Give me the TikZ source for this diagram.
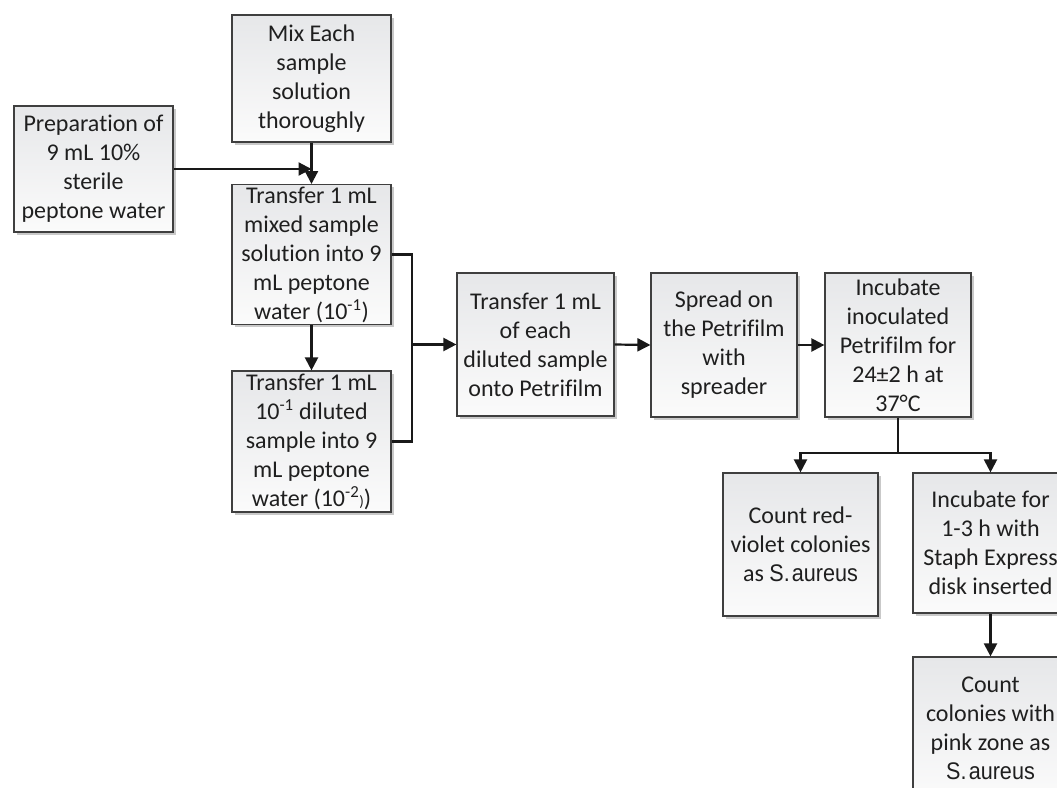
\documentclass[tikz,border=0pt]{standalone}
\usepackage{graphicx}
\usepackage{fontspec}
\setmainfont{Carlito}[Ligatures={NoCommon}]
\newfontfamily\arialfont{Liberation Sans}
\usetikzlibrary{arrows.meta,shadows}

\definecolor{boxedge}{HTML}{3F3F3F}
\definecolor{boxtop}{HTML}{E6E7E9}
\definecolor{boxbot}{HTML}{FBFBFB}
\definecolor{shadowgray}{HTML}{C9C9C9}

\newcommand{\saur}{\scalebox{0.9}[1]{\arialfont S.\hspace{0.1em}aureus}}

\tikzset{
  stepbox/.style={draw=boxedge, line width=1.2pt, rectangle,
    top color=boxtop, bottom color=boxbot, align=center, inner sep=2pt,
    font=\fontsize{24pt}{29pt}\selectfont, text=black!88,
    drop shadow={shadow xshift=2.5pt, shadow yshift=-2.5pt, fill=shadowgray, opacity=1}},
  link/.style={line width=2.2pt, draw=black!90},
  arr/.style={link, -{Triangle[length=13pt,width=13pt]}},
}

\begin{document}
\begin{tikzpicture}[x=1pt,y=-1pt]
\useasboundingbox (0,0) rectangle (1057,787);
\clip (0,0) rectangle (1057,787);

% preparation column
\node[stepbox, minimum width=159pt, minimum height=126pt] (prep) at (93.5,169)
  {Preparation of\\9 mL 10\%\\sterile\\peptone water};
\node[stepbox, minimum width=159pt, minimum height=127pt] (mix) at (311.5,78.5)
  {Mix Each\\sample\\solution\\thoroughly};
\node[stepbox, minimum width=159pt, minimum height=137pt] (t1) at (311.5,254.5)
  {Transfer 1 mL\\mixed sample\\solution into 9\\mL peptone\\water (10\textsuperscript{-1})};
\node[stepbox, minimum width=159pt, minimum height=141pt] (t2) at (311.5,441.5)
  {Transfer 1 mL\\10\textsuperscript{-1} diluted\\sample into 9\\mL peptone\\water (10\textsuperscript{-2}{\fontsize{15pt}{15pt}\selectfont)})};

% main row
\node[stepbox, minimum width=157pt, minimum height=143pt] (t3) at (535.5,344.5)
  {Transfer 1 mL\\of each\\diluted sample\\onto Petrifilm};
\node[stepbox, minimum width=146pt, minimum height=144pt] (spread) at (724,345)
  {Spread on\\the Petrifilm\\with\\spreader};
\node[stepbox, minimum width=146pt, minimum height=144pt] (inc) at (898,345)
  {Incubate\\inoculated\\Petrifilm for\\24±2 h at\\37°C};

% counting branch
\node[stepbox, minimum width=155pt, minimum height=143pt] (cnt1) at (800.5,544.5)
  {Count red-\\violet colonies\\as \saur};
\node[stepbox, minimum width=155pt, minimum height=140pt] (inc2) at (990.5,543)
  {Incubate for\\1-3 h with\\Staph Express\\disk inserted};
\node[stepbox, minimum width=155pt, minimum height=143pt] (cnt2) at (990.5,728.5)
  {Count\\colonies with\\pink zone as\\\saur};

% junctions
\coordinate (jmix) at (mix.south |- prep.east);
\coordinate (jr) at (412,0);
\coordinate (jsplit) at (inc.south |- 0,453);

% connectors
\draw[arr] (prep.east) -- (jmix);
\draw[arr] (mix.south) -- (t1.north);
\draw[arr] (t1.south) -- (t2.north);
\draw[link] (t1.east) -- (jr |- t1.east) -- (jr |- t2.east) -- (t2.east);
\draw[arr] (jr |- t3.west) -- (t3.west);
\draw[arr] (t3.east) -- (spread.west);
\draw[arr] (spread.east) -- (inc.west);
\draw[link] (inc.south) -- (jsplit);
\draw[arr] (jsplit) -| (cnt1.north);
\draw[arr] (jsplit) -| (inc2.north);
\draw[arr] (inc2.south) -- (cnt2.north);
\end{tikzpicture}
\end{document}
